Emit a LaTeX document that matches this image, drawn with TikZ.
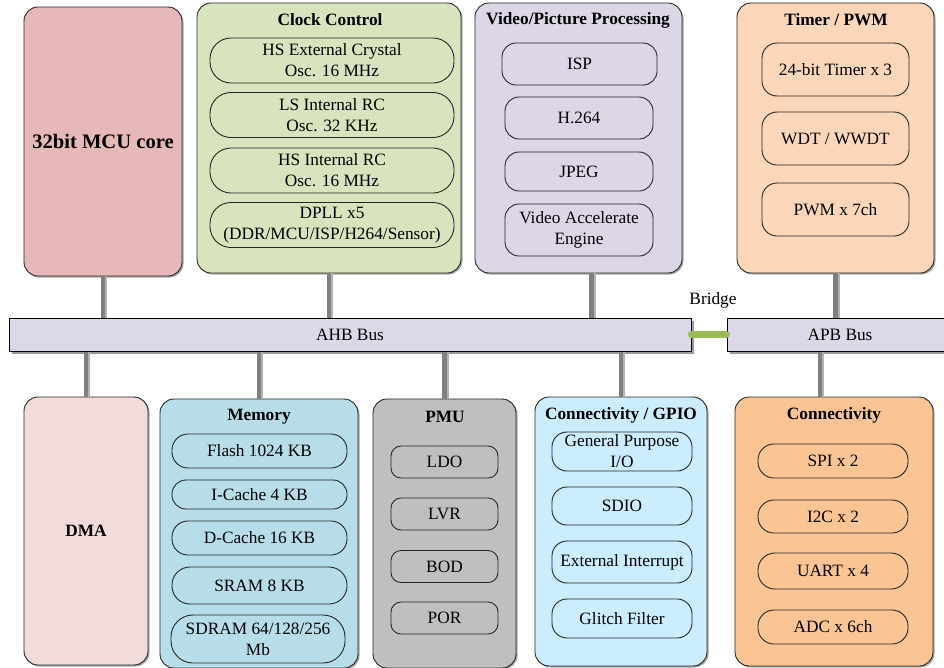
\documentclass[tikz,border=0pt]{standalone}
\usepackage{fontspec}
\setmainfont{LiberationSerif}[Extension=.ttf, UprightFont=*-Regular, BoldFont=*-Bold,
  ItalicFont=*-Italic, BoldItalicFont=*-BoldItalic]
\usetikzlibrary{shadows}

\definecolor{mcufill}{HTML}{E6B9B8}
\definecolor{clkfill}{HTML}{D7E4BD}
\definecolor{vidfill}{HTML}{DCD6E6}
\definecolor{timfill}{HTML}{FBD6B8}
\definecolor{dmafill}{HTML}{F2DCDB}
\definecolor{memfill}{HTML}{B7DDE8}
\definecolor{pmufill}{HTML}{BFBFBF}
\definecolor{gpiofill}{HTML}{CCECFF}
\definecolor{confill}{HTML}{FBC593}
\definecolor{busfill}{HTML}{DDD8E7}
\definecolor{bridgegreen}{HTML}{9BBB59}
\definecolor{linkdark}{HTML}{7F7F7F}
\definecolor{linklight}{HTML}{B2B2B2}

\tikzset{
  block/.style={draw=black!85, line width=0.9pt, rounded corners=14pt,
    drop shadow={shadow xshift=1.5pt, shadow yshift=-1.5pt, fill=black!35, opacity=1}},
  pill/.style={draw=black!85, line width=0.9pt, align=center, inner sep=0pt},
  head/.style={font=\fontsize{17.3}{21}\selectfont\bfseries},
  bus/.style={draw=black, line width=1pt, fill=busfill,
    drop shadow={shadow xshift=3pt, shadow yshift=-3pt, fill=black!40, opacity=1}},
  link/.style={draw=linkdark, line width=4.5pt},
  linkshade/.style={draw=linklight, line width=4.5pt},
  bridge/.style={draw=bridgegreen, line width=7pt, line cap=round},
}

\begin{document}
\begin{tikzpicture}[x=1pt, y=-1pt, font=\fontsize{17.3}{21}\selectfont]
\useasboundingbox (0,0) rectangle (944,667);

% buses
\node[bus, minimum width=682pt, minimum height=33pt] (ahb) at (350,334.5) {AHB Bus};
\node[bus, minimum width=226pt, minimum height=33pt] (apb) at (840,334.5) {APB Bus};
\draw[bridge] (ahb.east) -- (apb.west);
\node (bridgelabel) at (713,300) {Bridge};

% upper blocks
\node[block, fill=mcufill, minimum width=158pt, minimum height=269pt,
  font=\fontsize{20.6}{24}\selectfont\bfseries] (mcu) at (103,141.5) {32bit MCU core};

\node[block, fill=clkfill, minimum width=264pt, minimum height=270pt] (clk) at (329,138) {};
\node[head] (clkhead) at (330,20) {Clock Control};
\tikzset{osc/.style={pill, minimum width=244pt, minimum height=45pt, rounded corners=21pt}}
\node[osc] (hsxtal) at (332,60.5) {HS External Crystal\\Osc. 16 MHz};
\node[osc] (lsrc) at (332,115) {LS Internal RC\\Osc. 32 KHz};
\node[osc] (hsrc) at (332,170.5) {HS Internal RC\\Osc. 16 MHz};
\node[osc] (dpll) at (332,225) {DPLL x5\\(DDR/MCU/ISP/H264/Sensor)};

\node[block, fill=vidfill, minimum width=207pt, minimum height=270pt] (vid) at (578.5,138) {};
\node[head] (vidhead) at (578,20) {Video/Picture Processing};
\tikzset{vbox/.style={pill, minimum width=148pt, rounded corners=14pt}}
\node[vbox, minimum width=155pt, minimum height=42pt] (isp) at (579.5,64) {ISP};
\node[vbox, minimum height=42pt] (h264) at (579,118) {H.264};
\node[vbox, minimum height=39pt] (jpeg) at (579,171.5) {JPEG};
\node[vbox, minimum height=52pt] (vae) at (579,230) {Video Accelerate\\Engine};

\node[block, fill=timfill, minimum width=197pt, minimum height=270pt] (tim) at (835.5,138) {};
\node[head] (timhead) at (836,20) {Timer / PWM};
\tikzset{tbox/.style={pill, minimum width=147pt, minimum height=53pt, rounded corners=15pt}}
\node[tbox] (timer24) at (835.5,69.5) {24-bit Timer x 3};
\node[tbox] (wdt) at (835.5,138.5) {WDT / WWDT};
\node[tbox] (pwm) at (835.5,209.5) {PWM x 7ch};

% lower blocks
\node[block, fill=dmafill, minimum width=124pt, minimum height=268pt,
  font=\fontsize{17.3}{21}\selectfont\bfseries] (dma) at (86,531) {DMA};

\node[block, fill=memfill, minimum width=198pt, minimum height=269pt] (mem) at (259,533.5) {};
\node[head] (memhead) at (259,417) {Memory};
\tikzset{mbox/.style={pill, minimum width=175pt, minimum height=34pt, rounded corners=16pt}}
\node[mbox] (flash) at (259.5,451) {Flash 1024 KB};
\node[mbox, minimum height=29pt, rounded corners=14pt] (icache) at (259.5,494.5) {I-Cache 4 KB};
\node[mbox] (dcache) at (259.5,538) {D-Cache 16 KB};
\node[mbox, minimum height=37pt, rounded corners=18pt] (sram) at (259.5,585.5) {SRAM 8 KB};
\node[mbox, minimum width=174pt, minimum height=48pt, rounded corners=22pt] (sdram) at (258,639) {SDRAM 64/128/256\\Mb};

\node[block, fill=pmufill, minimum width=143pt, minimum height=269pt] (pmu) at (444.5,533.5) {};
\node[head] (pmuhead) at (445,417) {PMU};
\tikzset{pbox/.style={pill, minimum width=107pt, minimum height=32pt, rounded corners=10pt}}
\node[pbox] (ldo) at (444.5,462) {LDO};
\node[pbox] (lvr) at (444.5,514) {LVR};
\node[pbox] (bod) at (444.5,566.5) {BOD};
\node[pbox] (por) at (444.5,618) {POR};

\node[block, fill=gpiofill, minimum width=172pt, minimum height=269pt] (gpio) at (621,531.5) {};
\node[head] (gpiohead) at (621,415) {Connectivity / GPIO};
\tikzset{gbox/.style={pill, minimum width=140pt, minimum height=39pt, rounded corners=15pt}}
\node[gbox] (gpo) at (622,451.5) {General Purpose\\I/O};
\node[gbox, minimum height=38pt] (sdio) at (622,506) {SDIO};
\node[gbox, minimum height=42pt] (extint) at (622,562) {External Interrupt};
\node[gbox] (glitch) at (622,618.5) {Glitch Filter};

\node[block, fill=confill, minimum width=198pt, minimum height=269pt] (con) at (834,531.5) {};
\node[head] (conhead) at (834,415) {Connectivity};
\tikzset{cbox/.style={pill, minimum width=150pt, minimum height=34pt, rounded corners=16pt}}
\node[cbox] (spi) at (833,461) {SPI x 2};
\node[cbox, minimum height=33pt] (i2c) at (833,516.5) {I2C x 2};
\node[cbox, minimum height=36pt, rounded corners=17pt] (uart) at (833,571) {UART x 4};
\node[cbox] (adc) at (833,627) {ADC x 6ch};

% taps onto the buses
\coordinate (vidtap) at ([xshift=13pt]vid.south);
\coordinate (contap) at ([xshift=-14pt]con.north);
\foreach \s in {mcu.south, clk.south, vidtap} {
  \draw[linkshade] ([xshift=2pt]\s) -- ([xshift=2pt]\s |- ahb.north);
  \draw[link] (\s) -- (\s |- ahb.north);
}
\draw[linkshade] ([xshift=2pt]tim.south) -- ([xshift=2pt]tim.south |- apb.north);
\draw[link] (tim.south) -- (tim.south |- apb.north);
\foreach \s in {dma.north, mem.north, pmu.north, gpio.north} {
  \draw[linkshade] ([xshift=2pt]\s) -- ([xshift=2pt]\s |- ahb.south);
  \draw[link] (\s) -- (\s |- ahb.south);
}
\draw[linkshade] ([xshift=2pt]contap) -- ([xshift=2pt]contap |- apb.south);
\draw[link] (contap) -- (contap |- apb.south);
\end{tikzpicture}
\end{document}
